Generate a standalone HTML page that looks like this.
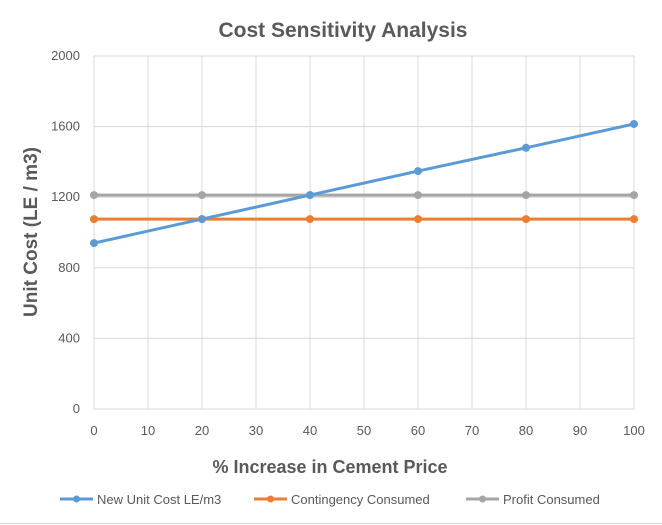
<!DOCTYPE html>
<html><head><meta charset="utf-8"><style>
body{margin:0;background:#fff;}
svg{display:block;font-family:"Liberation Sans",sans-serif;}
</style></head><body>
<svg id="c" width="662" height="525">
<rect x="0" y="0" width="662" height="525" fill="#fff"/>
<line x1="0" y1="523.5" x2="662" y2="523.5" stroke="#d9d9d9"/>
<text x="343" y="37" text-anchor="middle" font-size="21" font-weight="bold" fill="#595959">Cost Sensitivity Analysis</text>
<text transform="translate(37,232) rotate(-90)" text-anchor="middle" font-size="19" font-weight="bold" fill="#595959">Unit Cost (LE / m3)</text>
<text x="330" y="473" text-anchor="middle" font-size="18" font-weight="bold" fill="#595959">% Increase in Cement Price</text>
<g id="grid"></g><g id="series"></g><g id="legend"></g>
</svg>
<script>
const xCats=[0,20,40,60,80,100];
const xTicks=[0,10,20,30,40,50,60,70,80,90,100];
const yTicks=[0,400,800,1200,1600,2000];
const newUnitCost=[940,1076,1212,1348,1480,1615];
const contingency=[1076,1076,1076,1076,1076,1076];
const profit=[1212,1212,1212,1212,1212,1212];
const NS='http://www.w3.org/2000/svg';
const X=v=>94+v/100*540, Y=v=>409-v/2000*353;
function mk(t,a,p){const e=document.createElementNS(NS,t);for(const k in a)e.setAttribute(k,a[k]);p.appendChild(e);return e;}
const g=document.getElementById('grid');
xTicks.forEach(t=>{const l=mk('line',{x1:X(t),x2:X(t),y1:Y(2000),y2:Y(0),stroke:'#d9d9d9'},g);


const tx=mk('text',{x:X(t),y:435,'text-anchor':'middle','font-size':13,fill:'#595959'},g);tx.textContent=t;

});
yTicks.forEach(t=>{const l=mk('line',{x1:X(0),x2:X(100),y1:Y(t),y2:Y(t),stroke:'#d9d9d9'},g);


const tx=mk('text',{x:80,y:Y(t)+4,'text-anchor':'end','font-size':13,fill:'#595959'},g);tx.textContent=t;

});
const s=document.getElementById('series');
function draw(vals,col,name){const pl=mk('polyline',{points:vals.map((v,i)=>X(xCats[i])+','+Y(v)).join(' '),fill:'none',stroke:col,'stroke-width':3},s);


vals.forEach((v,i)=>{const c=mk('circle',{cx:X(xCats[i]),cy:Y(v),r:4,fill:col},s);

});}
draw(contingency,'#ed7d31','contingency-consumed');
draw(profit,'#a5a5a5','profit-consumed');
draw(newUnitCost,'#5b9bd5','new-unit-cost');
const lg=document.getElementById('legend');
[['New Unit Cost LE/m3','#5b9bd5',60],['Contingency Consumed','#ed7d31',254],['Profit Consumed','#a5a5a5',466]].forEach(([t,c,x])=>{
const gg=mk('g',{},lg);


mk('line',{x1:x,x2:x+33,y1:499,y2:499,stroke:c,'stroke-width':3},gg);
mk('circle',{cx:x+16.5,cy:499,r:3.5,fill:c},gg);
const tx=mk('text',{x:x+37,y:504,'font-size':13,fill:'#595959'},gg);tx.textContent=t;});
</script>
</body></html>
